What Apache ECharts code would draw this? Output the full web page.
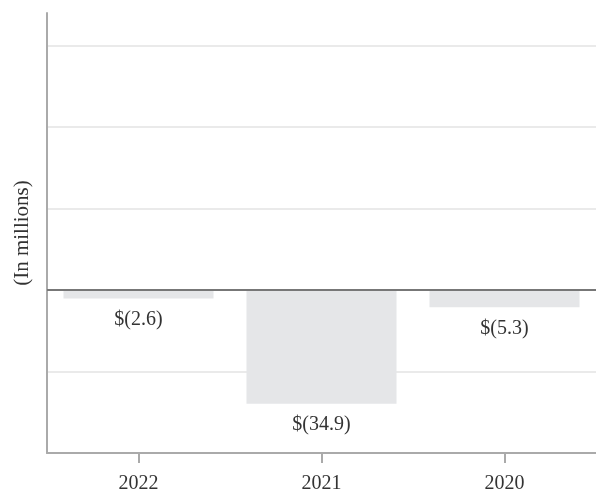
<!DOCTYPE html>
<html><head><meta charset="utf-8">
<script src="https://cdn.jsdelivr.net/npm/echarts@6/dist/echarts.min.js"></script>
<style>html,body{margin:0;padding:0;background:#fff}#c{width:596px;height:491px}</style>
</head><body><div id="c"></div>
<script>
const categories = ['2022', '2021', '2020'];
const values = [-2.6, -34.9, -5.3];
const labels = ['$(2.6)', '$(34.9)', '$(5.3)'];
const yName = '(In millions)';

const font = '"Liberation Serif", "DejaVu Serif", serif';
const chart = echarts.init(document.getElementById('c'), null, {renderer: 'canvas'});
chart.setOption({
  animation: false,
  grid: {left: 47, right: 0, top: 13, bottom: 38, outerBoundsMode: 'none', containLabel: false},
  xAxis: {
    type: 'category', data: categories,
    axisLine: {show: true, onZero: false, lineStyle: {color: '#aaa', width: 2}},
    axisTick: {show: true, alignWithLabel: true, length: 10, lineStyle: {color: '#aaa', width: 2}},
    axisLabel: {fontFamily: font, fontSize: 20, color: '#333', margin: 21},
    splitLine: {show: false}
  },
  yAxis: {
    type: 'value', min: -50, max: 85, interval: 25,
    name: yName, nameLocation: 'middle', nameGap: 14, nameRotate: 90,
    nameTextStyle: {fontFamily: font, fontSize: 21, color: '#333'},
    axisLine: {show: true, lineStyle: {color: '#aaa', width: 2}},
    axisTick: {show: false},
    axisLabel: {show: false},
    splitLine: {show: true, showMaxLine: false, showMinLine: false, lineStyle: {color: '#eaeaea', width: 2}}
  },
  series: [{
    type: 'bar',
    data: values,
    barWidth: '82%',
    itemStyle: {color: '#e5e6e8'},
    label: {
      show: true, position: 'bottom', distance: 11,
      fontFamily: font, fontSize: 20, color: '#333',
      formatter: p => labels[p.dataIndex]
    },
    markLine: {
      silent: true, symbol: 'none', label: {show: false},
      lineStyle: {color: '#777', width: 2, type: 'solid'},
      data: [{yAxis: 0}]
    }
  }]
});
</script></body></html>
